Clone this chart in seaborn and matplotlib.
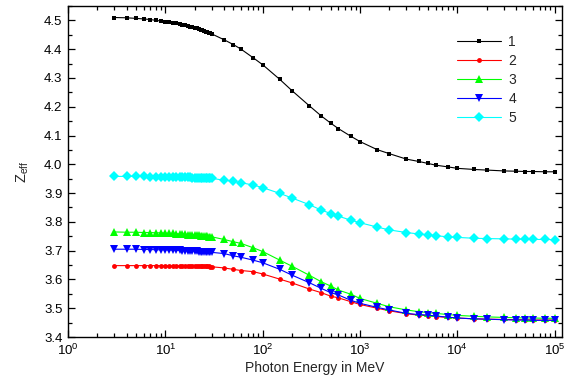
import numpy as np
import pandas as pd
import matplotlib
matplotlib.use("Agg")
import matplotlib.pyplot as plt
import seaborn as sns
from matplotlib.ticker import LogLocator, MultipleLocator, FormatStrFormatter, NullFormatter

# ---------------- data ----------------
energy = [3, 4, 5, 6, 7, 8, 9, 10, 11, 12, 13, 14, 15, 16, 17, 18, 19, 20,
          21, 22, 23, 24, 25, 26, 27, 28, 29, 30,
          40, 50, 60, 80, 100, 150, 200, 300, 400, 500, 600, 800, 1000, 1500,
          2000, 3000, 4000, 5000, 6000, 8000, 10000, 15000, 20000, 30000,
          40000, 50000, 60000, 80000, 100000]

z1 = [4.510, 4.509, 4.507, 4.505, 4.503, 4.500, 4.498, 4.496, 4.494, 4.492,
      4.490, 4.487, 4.485, 4.483, 4.481, 4.478, 4.476, 4.474, 4.472, 4.469,
      4.467, 4.465, 4.463, 4.461, 4.459, 4.457, 4.455, 4.453,
      4.433, 4.416, 4.400, 4.370, 4.346, 4.295, 4.256, 4.204, 4.168, 4.143,
      4.124, 4.098, 4.079, 4.051, 4.037, 4.018, 4.010, 4.003, 3.997, 3.991,
      3.986, 3.982, 3.980, 3.977, 3.976, 3.975, 3.975, 3.974, 3.974]

z2 = [3.648, 3.648, 3.648, 3.648, 3.648, 3.648, 3.648, 3.648, 3.647, 3.647,
      3.647, 3.647, 3.647, 3.647, 3.647, 3.647, 3.646, 3.646, 3.646, 3.646,
      3.646, 3.646, 3.645, 3.645, 3.645, 3.645, 3.644, 3.644,
      3.640, 3.635, 3.631, 3.627, 3.619, 3.601, 3.588, 3.567, 3.554, 3.542,
      3.536, 3.523, 3.513, 3.500, 3.491, 3.481, 3.476, 3.474, 3.471, 3.468,
      3.466, 3.463, 3.462, 3.461, 3.460, 3.460, 3.459, 3.459, 3.459]

z3 = [3.765, 3.764, 3.764, 3.763, 3.763, 3.762, 3.762, 3.761, 3.760, 3.760,
      3.759, 3.758, 3.758, 3.757, 3.756, 3.756, 3.755, 3.754, 3.754, 3.753,
      3.752, 3.752, 3.751, 3.750, 3.750, 3.749, 3.749, 3.748,
      3.739, 3.731, 3.725, 3.710, 3.697, 3.667, 3.646, 3.615, 3.592, 3.577,
      3.563, 3.549, 3.534, 3.517, 3.505, 3.494, 3.488, 3.485, 3.482, 3.478,
      3.475, 3.472, 3.470, 3.468, 3.467, 3.466, 3.466, 3.465, 3.465]

z4 = [3.705, 3.705, 3.705, 3.704, 3.704, 3.703, 3.703, 3.703, 3.702, 3.702,
      3.701, 3.701, 3.700, 3.700, 3.700, 3.699, 3.699, 3.698, 3.698, 3.697,
      3.697, 3.697, 3.696, 3.696, 3.695, 3.695, 3.695, 3.694,
      3.690, 3.682, 3.677, 3.667, 3.658, 3.635, 3.615, 3.589, 3.569, 3.554,
      3.546, 3.528, 3.517, 3.503, 3.494, 3.482, 3.478, 3.476, 3.473, 3.469,
      3.466, 3.463, 3.462, 3.460, 3.459, 3.459, 3.458, 3.458, 3.458]

z5 = [3.958, 3.958, 3.958, 3.958, 3.957, 3.957, 3.957, 3.957, 3.956, 3.956,
      3.956, 3.956, 3.955, 3.955, 3.955, 3.955, 3.954, 3.954, 3.954, 3.954,
      3.953, 3.953, 3.953, 3.953, 3.952, 3.952, 3.952, 3.951,
      3.945, 3.941, 3.936, 3.928, 3.919, 3.899, 3.883, 3.860, 3.841, 3.829,
      3.820, 3.806, 3.797, 3.782, 3.772, 3.763, 3.758, 3.755, 3.752, 3.748,
      3.746, 3.743, 3.742, 3.741, 3.740, 3.740, 3.739, 3.739, 3.738]

labels = ["1", "2", "3", "4", "5"]
series = [z1, z2, z3, z4, z5]

# ---------------- style ----------------
sns.set_style("ticks")
plt.rcParams["font.family"] = ["Liberation Sans", "DejaVu Sans"]
plt.rcParams["mathtext.default"] = "regular"

colors = ["#000000", "#FF0000", "#00FF00", "#0000FF", "#00FFFF"]
markers = ["s", "o", "^", "v", "D"]
msizes = [2.3, 3.5, 5.5, 5.5, 5.3]

fig = plt.figure(figsize=(5.66, 3.85), dpi=100)
ax = fig.add_axes([68 / 566, 1 - 337 / 385, (562 - 68) / 566, (337 - 6) / 385])

for lab, vals, c, m, ms in zip(labels, series, colors, markers, msizes):
    df = pd.DataFrame({"E": energy, "Z": vals})
    sns.lineplot(data=df, x="E", y="Z", ax=ax, color=c, marker=m,
                 markersize=ms, markeredgewidth=0, linewidth=0.8, label=lab)

ax.set_xscale("log")
ax.set_xlim(1, 1.19e5)
ax.set_ylim(3.4, 4.55)
ax.yaxis.set_major_locator(MultipleLocator(0.1))
ax.yaxis.set_minor_locator(MultipleLocator(0.05))
ax.yaxis.set_major_formatter(FormatStrFormatter("%.1f"))
ax.xaxis.set_major_locator(LogLocator(base=10, numticks=10))
ax.xaxis.set_minor_locator(LogLocator(base=10, subs=np.arange(2, 10), numticks=20))
ax.xaxis.set_minor_formatter(NullFormatter())

ax.tick_params(which="both", direction="in", top=True, right=True,
               labelsize=9.5, width=0.9, colors="black")
ax.tick_params(which="major", length=5, pad=4)
ax.tick_params(which="minor", length=3)
for sp in ax.spines.values():
    sp.set_linewidth(1.0)
    sp.set_color("black")

ax.set_xlabel("Photon Energy in MeV", fontsize=10, labelpad=2)
ax.set_ylabel(r"Z$_{eff}$", fontsize=10.5, labelpad=9)

leg = ax.legend(loc="upper left", bbox_to_anchor=(457 / 566, 1 - 35 / 385),
                bbox_transform=fig.transFigure, frameon=False, fontsize=10,
                handlelength=3.2, handletextpad=0.5, labelspacing=0.36,
                borderpad=0, borderaxespad=0)

fig.savefig("out.png", dpi=100)
